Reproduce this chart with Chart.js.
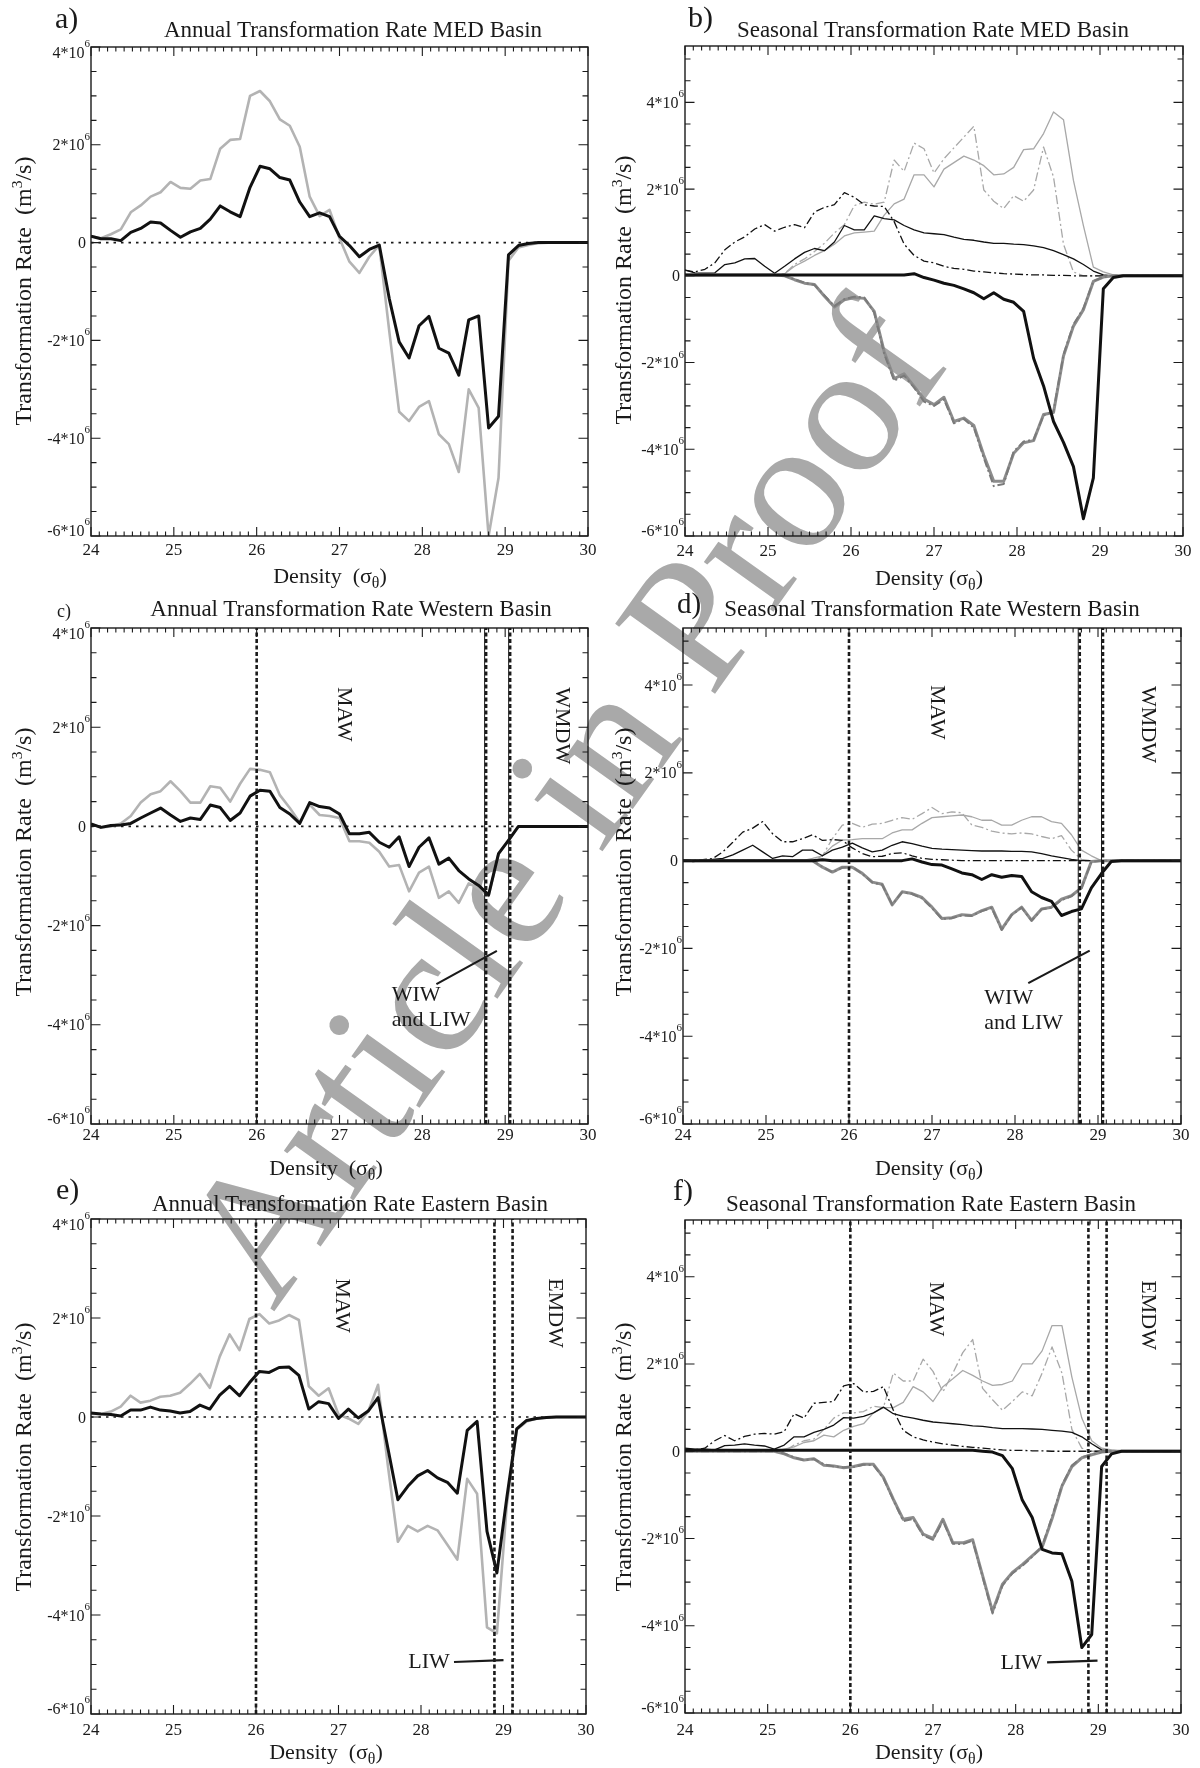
<!DOCTYPE html>
<html>
<head>
<meta charset="utf-8">
<script src="https://cdn.jsdelivr.net/npm/chart.js@4.4.1/dist/chart.umd.min.js"></script>
<style>
  body { margin: 0; background: #fff; }
  #page { position: relative; width: 1200px; height: 1768px; overflow: hidden;
          font-family: "Liberation Serif", serif; color: #1a1a1a; background: #fff; }
  #page canvas { position: absolute; z-index: 2; }
  .txt { position: absolute; white-space: nowrap; line-height: 1; z-index: 3; }
  .txt sup { font-size: 0.65em; vertical-align: 0.55em; line-height: 0; }
  .txt sub { font-size: 0.72em; vertical-align: -0.3em; line-height: 0; }
  #mark { position: absolute; white-space: nowrap; line-height: 1; font-size: 186px;
          color: #a9a9a9; pointer-events: none; z-index: 1; }
</style>
</head>
<body>
<div id="page"></div>
<script>
// ================================
// DATA (transformation rate in 10^6 m3/s)
// ================================
const density = [24.00, 24.12, 24.24, 24.36, 24.48, 24.60, 24.72, 24.84, 24.96, 25.08,
                 25.20, 25.32, 25.44, 25.56, 25.68, 25.80, 25.92, 26.04, 26.16, 26.28,
                 26.40, 26.52, 26.64, 26.76, 26.88, 27.00, 27.12, 27.24, 27.36, 27.48,
                 27.60, 27.72, 27.84, 27.96, 28.08, 28.20, 28.32, 28.44, 28.56, 28.68,
                 28.80, 28.92, 29.04, 29.16, 29.28, 29.40, 29.52, 29.64, 29.76, 29.88, 30.00];

const xTickLabels = [24, 25, 26, 27, 28, 29, 30];
const yTickValues = [-6, -4, -2, 0, 2, 4];

// a) annual MED
const medAnnualBlack = [0.13,0.08,0.08,0.04,0.21,0.29,0.42,0.40,0.25,0.11,
  0.22,0.29,0.48,0.75,0.63,0.53,1.13,1.56,1.51,1.33,
  1.28,0.83,0.53,0.61,0.53,0.13,-0.06,-0.29,-0.14,-0.05,
  -1.14,-2.03,-2.36,-1.70,-1.51,-2.16,-2.26,-2.71,-1.58,-1.50,
  -3.79,-3.55,-0.25,-0.06,-0.02,0,0,0,0,0,0];
const medAnnualGray = [0.13,0.09,0.17,0.27,0.62,0.76,0.94,1.03,1.24,1.12,
  1.10,1.27,1.30,1.92,2.10,2.12,3.00,3.10,2.89,2.52,
  2.39,1.96,0.94,0.54,0.67,0.09,-0.39,-0.62,-0.29,-0.05,
  -1.80,-3.46,-3.65,-3.36,-3.24,-3.92,-4.12,-4.69,-3.00,-3.38,
  -6.00,-4.81,-0.37,-0.10,-0.05,-0.01,0,0,0,0,0];

// b) seasonal MED
const medSeasBlackThin = [0.13,0.07,0.06,0.07,0.26,0.30,0.39,0.40,0.22,0.06,
  0.22,0.39,0.54,0.63,0.58,0.78,1.16,1.06,1.06,1.38,
  1.32,1.29,1.16,1.06,0.99,0.97,0.95,0.89,0.84,0.82,
  0.78,0.75,0.75,0.73,0.72,0.69,0.65,0.58,0.49,0.39,
  0.26,0.11,0.02,0,0,0,0,0,0,0,0];
const medSeasBlackDash = [0.13,0.09,0.15,0.30,0.60,0.78,0.90,1.08,1.18,1.03,
  1.12,1.18,1.11,1.47,1.58,1.64,1.92,1.81,1.64,1.61,
  1.60,1.25,0.73,0.47,0.34,0.30,0.22,0.17,0.15,0.11,
  0.09,0.07,0.05,0.04,0.03,0.02,0.02,0.01,0.01,0,
  0,0,0,0,0,0,0,0,0,0,0];
const medSeasGrayThin = [0.02,0.02,0.02,0.02,0.02,0.02,0.02,0.02,0.02,0.02,
  0.05,0.22,0.34,0.47,0.58,0.73,0.92,0.99,1.01,1.03,
  1.40,1.66,1.77,2.33,2.33,2.05,2.46,2.61,2.76,2.67,
  2.54,2.33,2.35,2.50,2.91,2.93,3.28,3.78,3.60,2.20,
  1.16,0.20,0.09,0.02,0,0,0,0,0,0,0];
const medSeasGrayDash = [0.02,0.02,0.02,0.02,0.02,0.02,0.02,0.02,0.02,0.02,
  0.05,0.26,0.39,0.56,0.75,0.99,1.18,1.62,1.70,1.65,
  1.70,2.67,2.41,3.06,2.93,2.37,2.70,2.95,3.20,3.45,
  1.98,1.72,1.55,1.85,1.72,1.98,2.97,2.28,0.73,0.09,
  0,0,0,0,0,0,0,0,0,0,0];
const medSeasBlackThick = [0.02,0.02,0.02,0.02,0.02,0.02,0.02,0.02,0.02,0.02,
  0.02,0.02,0.02,0.02,0.02,0.02,0.02,0.02,0.02,0.02,
  0.02,0.02,0.02,0.05,-0.04,-0.10,-0.17,-0.22,-0.30,-0.39,
  -0.53,-0.39,-0.54,-0.61,-0.82,-1.90,-2.54,-3.36,-3.84,-4.40,
  -5.60,-4.66,-0.30,-0.04,0,0,0,0,0,0,0];
const medSeasGrayThick = [0.02,0.02,0.02,0.02,0.02,0.02,0.02,0.02,0.02,0.02,
  0.00,-0.09,-0.17,-0.20,-0.47,-0.72,-0.55,-0.50,-0.52,-0.82,
  -1.75,-2.37,-2.26,-2.55,-2.84,-2.97,-2.80,-3.36,-3.28,-3.45,
  -4.14,-4.74,-4.74,-4.09,-3.85,-3.80,-3.20,-3.15,-1.85,-1.16,
  -0.78,-0.13,-0.03,0,0,0,0,0,0,0,0];
const medSeasGrayThickDash = [0.02,0.02,0.02,0.02,0.02,0.02,0.02,0.02,0.02,0.02,
  0.00,-0.08,-0.16,-0.21,-0.45,-0.70,-0.54,-0.48,-0.50,-0.85,
  -1.80,-2.42,-2.30,-2.58,-2.90,-3.00,-2.85,-3.40,-3.30,-3.50,
  -4.20,-4.85,-4.80,-4.05,-3.82,-3.78,-3.22,-3.12,-1.82,-1.12,
  -0.75,-0.12,-0.03,0,0,0,0,0,0,0,0];

// c) annual Western
const westAnnualBlack = [0.05,-0.02,0.02,0.03,0.06,0.17,0.27,0.37,0.23,0.10,
  0.17,0.14,0.43,0.38,0.12,0.27,0.61,0.73,0.71,0.38,
  0.25,0.06,0.48,0.40,0.37,0.25,-0.15,-0.15,-0.12,-0.32,
  -0.42,-0.21,-0.81,-0.42,-0.23,-0.76,-0.64,-0.89,-1.06,-1.19,
  -1.38,-0.55,-0.28,0,0,0,0,0,0,0,0];
const westAnnualGray = [0.05,-0.02,0.00,0.06,0.21,0.48,0.65,0.71,0.91,0.71,
  0.48,0.48,0.81,0.78,0.50,0.86,1.16,1.14,1.09,0.63,
  0.37,0.08,0.44,0.23,0.21,0.17,-0.30,-0.30,-0.33,-0.51,
  -0.81,-0.78,-1.31,-0.93,-0.81,-1.44,-1.31,-1.54,-1.15,-1.25,
  -1.40,-0.55,-0.28,0,0,0,0,0,0,0,0];

// d) seasonal Western
const westSeasBlackThin = [0.02,-0.02,0.00,0.03,0.05,0.13,0.24,0.35,0.20,0.05,
  0.11,0.09,0.24,0.24,0.11,0.24,0.31,0.40,0.29,0.20,
  0.24,0.35,0.43,0.39,0.33,0.28,0.26,0.25,0.24,0.23,
  0.22,0.22,0.22,0.21,0.21,0.20,0.16,0.11,0.07,0.03,
  0,0,0,0,0,0,0,0,0,0,0];
const westSeasBlackDash = [0.02,0.00,0.02,0.05,0.20,0.42,0.65,0.74,0.89,0.61,
  0.43,0.43,0.50,0.59,0.46,0.48,0.46,0.29,0.16,0.09,
  0.10,0.16,0.18,0.11,0.05,0.03,0.02,0.01,0,0,
  0,0,0,0,0,0,0,0,0,0,
  0,0,0,0,0,0,0,0,0,0,0];
const westSeasGrayThin = [0,0,0,0,0,0,0,0,0,0,
  0,0,0,0.05,0.11,0.33,0.47,0.48,0.50,0.50,
  0.50,0.63,0.70,0.70,0.85,0.98,1.00,1.02,1.04,1.00,
  0.92,0.92,0.81,0.81,0.92,1.00,1.00,0.89,0.85,0.59,
  0.24,0.11,0,0,0,0,0,0,0,0,0];
const westSeasGrayDash = [0,0,0,0,0,0,0,0,0,0,
  0,0,0,0,0.11,0.50,0.81,0.85,0.76,0.83,
  0.85,0.92,0.98,0.94,1.07,1.21,1.07,1.11,1.09,0.81,
  0.76,0.67,0.63,0.61,0.63,0.61,0.55,0.50,0.57,0.24,
  0.03,0,0,0,0,0,0,0,0,0,0];
const westSeasBlackThick = [0,0,0,0,0,0,0,0,0,0,
  0,0,0,0,0.02,0,0,0,0,0,
  0,0,0,0.04,-0.03,-0.09,-0.10,-0.19,-0.28,-0.32,
  -0.43,-0.32,-0.38,-0.34,-0.36,-0.71,-0.84,-0.93,-1.25,-1.16,
  -1.10,-0.62,-0.30,-0.02,0,0,0,0,0,0,0];
const westSeasGrayThick = [0,0,0,0,0,0,0,0,0,0,
  0,0,0,0,-0.15,-0.26,-0.15,-0.15,-0.29,-0.49,
  -0.54,-1.01,-0.71,-0.75,-0.84,-1.06,-1.32,-1.30,-1.23,-1.25,
  -1.14,-1.06,-1.56,-1.23,-1.06,-1.36,-1.10,-1.06,-0.88,-0.80,
  -0.62,-0.02,0,0,0,0,0,0,0,0,0];
const westSeasGrayThickDash = [0,0,0,0,0,0,0,0,0,0,
  0,0,0,0,-0.14,-0.27,-0.16,-0.14,-0.30,-0.50,
  -0.55,-1.00,-0.72,-0.76,-0.86,-1.08,-1.33,-1.31,-1.25,-1.26,
  -1.15,-1.08,-1.58,-1.24,-1.07,-1.37,-1.11,-1.07,-0.90,-0.81,
  -0.63,-0.03,0,0,0,0,0,0,0,0,0];

// e) annual Eastern
const eastAnnualBlack = [0.08,0.06,0.05,0.02,0.14,0.14,0.20,0.14,0.12,0.08,
  0.11,0.24,0.16,0.44,0.62,0.43,0.69,0.92,0.90,1.00,
  1.01,0.84,0.16,0.31,0.27,-0.03,0.16,-0.02,0.12,0.39,
  -0.64,-1.67,-1.40,-1.19,-1.08,-1.23,-1.32,-1.54,-0.27,-0.09,
  -2.31,-3.15,-1.63,-0.24,-0.07,-0.03,-0.01,0,0,0,0];
const eastAnnualGray = [0.06,0.06,0.11,0.21,0.43,0.29,0.33,0.41,0.43,0.49,
  0.67,0.87,0.59,1.22,1.67,1.35,1.98,2.08,1.89,1.95,
  2.06,1.96,0.62,0.43,0.58,0.05,-0.03,-0.14,0.11,0.65,
  -1.00,-2.52,-2.20,-2.31,-2.20,-2.29,-2.58,-2.88,-1.25,-1.55,
  -4.25,-4.37,-1.78,-0.26,-0.09,-0.03,-0.01,0,0,0,0];

// f) seasonal Eastern
const eastSeasBlackThin = [0.07,0.05,0.05,0.03,0.13,0.14,0.17,0.14,0.12,0.05,
  0.14,0.33,0.33,0.43,0.50,0.60,0.77,0.76,0.80,0.88,
  1.01,0.86,0.80,0.76,0.71,0.67,0.65,0.63,0.61,0.58,
  0.57,0.54,0.52,0.52,0.52,0.51,0.50,0.48,0.46,0.43,
  0.33,0.17,0.03,0,0,0,0,0,0,0,0];
const eastSeasBlackDash = [0.05,0.03,0.07,0.24,0.36,0.24,0.34,0.39,0.41,0.39,
  0.45,0.86,0.76,1.10,1.12,1.14,1.50,1.55,1.36,1.37,
  1.48,0.94,0.48,0.33,0.26,0.21,0.17,0.14,0.11,0.09,
  0.07,0.05,0.03,0.02,0.02,0.01,0.01,0,0,0,
  0,0,0,0,0,0,0,0,0,0,0];
const eastSeasGrayThin = [0,0,0,0,0,0,0,0,0,0,
  0.05,0.10,0.20,0.24,0.37,0.33,0.48,0.57,0.63,0.88,
  1.00,1.00,1.12,1.48,1.36,1.14,1.48,1.66,1.85,1.74,
  1.61,1.51,1.53,1.61,2.00,2.00,2.30,2.88,2.88,1.70,
  0.76,0.24,0.07,0.03,0,0,0,0,0,0,0];
const eastSeasGrayDash = [0,0,0,0,0,0,0,0,0,0,
  0,0.14,0.24,0.28,0.50,0.76,0.88,0.88,0.91,1.03,
  1.00,1.79,1.61,1.61,2.11,1.83,1.36,1.79,2.26,2.56,
  1.44,1.18,0.94,1.14,1.36,1.27,1.79,2.39,1.79,0.50,
  0.07,0,0,0,0,0,0,0,0,0,0];
const eastSeasBlackThick = [0.02,0.02,0.02,0.02,0.02,0.02,0.02,0.02,0.02,0.02,
  0.02,0.02,0.02,0.02,0.02,0.02,0.02,0.02,0.02,0.02,
  0.02,0.02,0.02,0.02,0.02,0.02,0.02,0.02,0.02,0.02,
  0.00,-0.02,-0.10,-0.40,-1.12,-1.52,-2.25,-2.33,-2.35,-2.98,
  -4.50,-4.20,-0.35,-0.06,0,0,0,0,0,0,0];
const eastSeasGrayThick = [0,0,0,0,0,0,0,0,0,0,
  -0.06,-0.15,-0.20,-0.17,-0.32,-0.34,-0.38,-0.35,-0.30,-0.30,
  -0.60,-1.10,-1.56,-1.52,-1.90,-2.00,-1.56,-2.10,-2.10,-2.03,
  -2.85,-3.67,-3.05,-2.78,-2.60,-2.40,-2.20,-1.55,-0.80,-0.35,
  -0.15,-0.08,-0.02,0,0,0,0,0,0,0,0];
const eastSeasGrayThickDash = [0,0,0,0,0,0,0,0,0,0,
  -0.05,-0.14,-0.21,-0.18,-0.30,-0.35,-0.37,-0.36,-0.31,-0.32,
  -0.62,-1.12,-1.60,-1.55,-1.93,-2.03,-1.60,-2.12,-2.13,-2.05,
  -2.88,-3.72,-3.08,-2.80,-2.63,-2.42,-2.18,-1.50,-0.78,-0.33,
  -0.14,-0.07,-0.02,0,0,0,0,0,0,0,0];

// water mass boundaries (density)
const westBounds = [26.0, 28.77, 29.06];
const westBoundsD = [26.0, 28.78, 29.06];
const eastBounds = [26.0, 28.89, 29.11];
const eastBoundsF = [26.0, 28.88, 29.10];

// ================================
// HELPERS
// ================================
const FONT = '"Liberation Serif", serif';
const INK = '#1a1a1a';

function line(vals, color, width, dash) {
    return {
        data: density.map((d, i) => ({ x: d, y: vals[i] * 1e6 })),
        borderColor: color, borderWidth: width, borderDash: dash || [],
        pointRadius: 0, tension: 0, borderJoinStyle: 'round', fill: false
    };
}
function vline(xv, ymax, width, dash) {
    return {
        data: [{ x: xv, y: -6e6 }, { x: xv, y: ymax * 1e6 }],
        borderColor: INK, borderWidth: width, borderDash: dash || [],
        pointRadius: 0, fill: false
    };
}
function zeroLine() {
    return {
        data: [{ x: 24, y: 0 }, { x: 30, y: 0 }],
        borderColor: INK, borderWidth: 1.7, borderDash: [2.5, 5],
        pointRadius: 0, fill: false
    };
}

const annualSet = (gray, black) => [
    zeroLine(),
    line(gray, '#b3b3b3', 2.6),
    line(black, '#111', 3)
];
const seasonalSet = (gThin, gDash, bThin, bDash, gThick, gThickDash, bThick) => [
    line(gThin, '#a8a8a8', 1.3),
    line(gDash, '#a8a8a8', 1.3, [9, 3, 2, 3]),
    line(bThin, '#111', 1.3),
    line(bDash, '#111', 1.3, [8, 3, 2, 3]),
    line(gThick, '#8c8c8c', 3),
    line(gThickDash, '#7a7a7a', 2, [8, 3, 2, 3]),
    line(bThick, '#111', 3)
];
const boundSet = (bounds, ymax, doubled) => {
    const out = [];
    bounds.forEach((b, k) => {
        out.push(vline(b, ymax, 2.6, [4, 2.5]));
        if (doubled && k > 0) out.push(vline(b - 0.018, ymax, 1));
    });
    return out;
};

// ================================
// FRAME, TICKS, LABELS PLUGIN
// ================================
const frameTicks = {
    id: 'frameTicks',
    afterDatasetsDraw(chart, args, opts) {
        const { ctx, chartArea: a, scales: { x, y } } = chart;
        ctx.save();
        ctx.strokeStyle = INK;
        ctx.lineWidth = 1.1;
        ctx.beginPath();
        for (let k = 0; k <= 60; k++) {
            const px = x.getPixelForValue(24 + k / 10);
            const len = k % 10 === 0 ? 9 : 4.5;
            ctx.moveTo(px, a.bottom); ctx.lineTo(px, a.bottom - len);
            ctx.moveTo(px, a.top); ctx.lineTo(px, a.top + len);
        }
        for (let k = 0; -6 + k * 0.5 <= opts.ymax + 1e-9; k++) {
            const py = y.getPixelForValue((-6 + k * 0.5) * 1e6);
            const len = k % 4 === 0 ? 9.5 : 5.5;
            ctx.moveTo(a.left, py); ctx.lineTo(a.left + len, py);
            ctx.moveTo(a.right, py); ctx.lineTo(a.right - len, py);
        }
        ctx.stroke();
        ctx.lineWidth = 1.4;
        ctx.strokeRect(a.left, a.top, a.right - a.left, a.bottom - a.top);

        ctx.fillStyle = INK;
        ctx.textBaseline = 'alphabetic';
        ctx.font = '17px ' + FONT;
        ctx.textAlign = 'center';
        xTickLabels.forEach(t => ctx.fillText(String(t), x.getPixelForValue(t), a.bottom + opts.gap));

        yTickValues.forEach(v => {
            let py = y.getPixelForValue(v * 1e6);
            py = Math.min(Math.max(py, a.top + 5), a.bottom - 6);
            const right = a.left - 1;
            if (v === 0) {
                ctx.font = '16px ' + FONT; ctx.textAlign = 'right';
                ctx.fillText('0', right - 4, py + 5.5);
                return;
            }
            ctx.font = '11px ' + FONT;
            const sw = ctx.measureText('6').width;
            ctx.textAlign = 'left';
            ctx.fillText('6', right - sw, py - 5);
            ctx.font = '16px ' + FONT; ctx.textAlign = 'right';
            ctx.fillText(v + '*10', right - sw, py + 5.5);
        });

        // water mass labels and pointers
        ctx.font = '22px ' + FONT;
        (opts.labels || []).forEach(l => {
            const px = x.getPixelForValue(l.x), py = y.getPixelForValue(l.y * 1e6);
            ctx.save();
            ctx.translate(px, py);
            if (l.rot) {
                ctx.rotate(Math.PI / 2);
                ctx.textAlign = 'center'; ctx.textBaseline = 'middle';
            } else {
                ctx.textAlign = l.align || 'left'; ctx.textBaseline = 'alphabetic';
            }
            ctx.fillText(l.text, 0, 0);
            ctx.restore();
        });
        ctx.lineWidth = 2.2;
        ctx.beginPath();
        (opts.pointers || []).forEach(p => {
            ctx.moveTo(x.getPixelForValue(p[0]), y.getPixelForValue(p[1] * 1e6));
            ctx.lineTo(x.getPixelForValue(p[2]), y.getPixelForValue(p[3] * 1e6));
        });
        ctx.stroke();
        ctx.restore();
    }
};

// ================================
// PANELS
// ================================
const X2 = 'Density&nbsp;&nbsp;(σ<sub>θ</sub>)';
const X1 = 'Density (σ<sub>θ</sub>)';
const panels = [
    { cx: 0, cy: 0, L: 91, R: 588, T: 47, B: 536, ymax: 4, gap: 19,
      title: 'Annual Transformation Rate MED Basin', tx: 353, ty: 37,
      tag: 'a)', tagX: 55, tagY: 28, tagSize: 30, yty: 291, xtx: 330, xty: 583, xt: X2,
      sets: annualSet(medAnnualGray, medAnnualBlack) },
    { cx: 600, cy: 0, L: 685, R: 1183, T: 46, B: 536, ymax: 5.3, gap: 20,
      title: 'Seasonal Transformation Rate MED Basin', tx: 933, ty: 37,
      tag: 'b)', tagX: 688, tagY: 27, tagSize: 30, yty: 290, xtx: 929, xty: 585, xt: X1,
      sets: seasonalSet(medSeasGrayThin, medSeasGrayDash, medSeasBlackThin, medSeasBlackDash,
                        medSeasGrayThick, medSeasGrayThickDash, medSeasBlackThick) },
    { cx: 0, cy: 589, L: 91, R: 588, T: 628, B: 1124, ymax: 4, gap: 16,
      title: 'Annual Transformation Rate Western Basin', tx: 351, ty: 616,
      tag: 'c)', tagX: 57, tagY: 617, tagSize: 18, yty: 862, xtx: 326, xty: 1175, xt: X2,
      sets: annualSet(westAnnualGray, westAnnualBlack).concat(boundSet(westBounds, 4, true)),
      labels: [{ text: 'MAW', x: 27.05, y: 2.26, rot: true }, { text: 'WMDW', x: 29.68, y: 2.03, rot: true },
               { text: 'WIW', x: 27.63, y: -3.53 }, { text: 'and LIW', x: 27.63, y: -4.03 }],
      pointers: [[28.17, -3.18, 28.9, -2.51]] },
    { cx: 600, cy: 589, L: 683, R: 1181, T: 628, B: 1124, ymax: 5.3, gap: 16,
      title: 'Seasonal Transformation Rate Western Basin', tx: 932, ty: 616,
      tag: 'd)', tagX: 677, tagY: 613, tagSize: 29, yty: 862, xtx: 929, xty: 1175, xt: X1,
      sets: seasonalSet(westSeasGrayThin, westSeasGrayDash, westSeasBlackThin, westSeasBlackDash,
                        westSeasGrayThick, westSeasGrayThickDash, westSeasBlackThick)
                        .concat(boundSet(westBoundsD, 5.3, true)),
      labels: [{ text: 'MAW', x: 27.06, y: 3.38, rot: true }, { text: 'WMDW', x: 29.6, y: 3.1, rot: true },
               { text: 'WIW', x: 27.63, y: -3.26 }, { text: 'and LIW', x: 27.63, y: -3.83 }],
      pointers: [[28.16, -2.79, 28.9, -2.05]] },
    { cx: 0, cy: 1178, L: 91, R: 586, T: 1219, B: 1714, ymax: 4, gap: 21,
      title: 'Annual Transformation Rate Eastern Basin', tx: 350, ty: 1211,
      tag: 'e)', tagX: 56, tagY: 1199, tagSize: 30, yty: 1457, xtx: 326, xty: 1759, xt: X2,
      sets: annualSet(eastAnnualGray, eastAnnualBlack).concat(boundSet(eastBounds, 4, false)),
      labels: [{ text: 'MAW', x: 27.04, y: 2.25, rot: true }, { text: 'EMDW', x: 29.62, y: 2.1, rot: true },
               { text: 'LIW', x: 28.35, y: -5.08, align: 'right' }],
      pointers: [[28.40, -4.95, 29.0, -4.91]] },
    { cx: 600, cy: 1178, L: 685, R: 1181, T: 1220, B: 1713, ymax: 5.3, gap: 22,
      title: 'Seasonal Transformation Rate Eastern Basin', tx: 931, ty: 1211,
      tag: 'f)', tagX: 673, tagY: 1200, tagSize: 30, yty: 1457, xtx: 929, xty: 1759, xt: X1,
      sets: seasonalSet(eastSeasGrayThin, eastSeasGrayDash, eastSeasBlackThin, eastSeasBlackDash,
                        eastSeasGrayThick, eastSeasGrayThickDash, eastSeasBlackThick)
                        .concat(boundSet(eastBoundsF, 5.3, false)),
      labels: [{ text: 'MAW', x: 27.03, y: 3.26, rot: true }, { text: 'EMDW', x: 29.6, y: 3.12, rot: true },
               { text: 'LIW', x: 28.32, y: -5.0, align: 'right' }],
      pointers: [[28.38, -4.84, 28.99, -4.8]] }
];

const page = document.getElementById('page');

function addText(html, x, y, size, center) {
    const d = document.createElement('div');
    d.className = 'txt';
    d.innerHTML = html;
    d.style.fontSize = size + 'px';
    d.style.left = x + 'px';
    d.style.top = (y - 0.84 * size) + 'px';
    if (center) d.style.transform = 'translateX(-50%)';
    page.appendChild(d);
    return d;
}

// "Article in Proof" stamp, behind the plots
const mark = document.createElement('div');
mark.id = 'mark';
mark.textContent = 'Article in Proof';
mark.style.left = '561px';
mark.style.top = '801px';
mark.style.transform = 'translate(-50%, -50%) rotate(-54.5deg)';
page.appendChild(mark);

panels.forEach(p => {
    const W = 600, H = 590;
    const canvas = document.createElement('canvas');
    canvas.width = W; canvas.height = H;
    canvas.style.left = p.cx + 'px'; canvas.style.top = p.cy + 'px';
    page.appendChild(canvas);

    // datasets listed back-to-front; chart.js paints index 0 last
    const datasets = p.sets.slice().reverse();

    new Chart(canvas.getContext('2d'), {
        type: 'line',
        data: { datasets },
        options: {
            responsive: false,
            animation: false,
            events: [],
            layout: { padding: { left: p.L - p.cx, right: p.cx + W - p.R, top: p.T - p.cy, bottom: p.cy + H - p.B } },
            scales: {
                x: { type: 'linear', min: 24, max: 30, display: false },
                y: { type: 'linear', min: -6e6, max: p.ymax * 1e6, display: false }
            },
            plugins: {
                legend: { display: false },
                tooltip: { enabled: false },
                frameTicks: { ymax: p.ymax, gap: p.gap, labels: p.labels, pointers: p.pointers }
            }
        },
        plugins: [frameTicks]
    });

    addText(p.title, p.tx, p.ty, 23, true);
    addText(p.tag, p.tagX, p.tagY, p.tagSize, false);
    addText(p.xt, p.xtx, p.xty, 22, true);

    const yt = document.createElement('div');
    yt.className = 'txt';
    yt.innerHTML = 'Transformation Rate&nbsp;&nbsp;(m<sup>3</sup>/s)';
    yt.style.fontSize = '24px';
    yt.style.left = (p.cx + 23) + 'px';
    yt.style.top = p.yty + 'px';
    yt.style.transform = 'translate(-50%, -50%) rotate(-90deg)';
    page.appendChild(yt);
});
</script>
</body>
</html>
